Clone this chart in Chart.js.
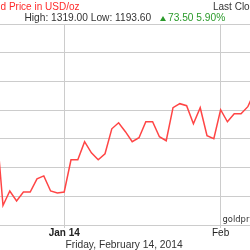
<!DOCTYPE html>
<html lang="en">
<head>
    <meta charset="UTF-8">
    <title>Gold Price in USD/oz</title>
    <style>
        html, body {
            margin: 0;
            padding: 0;
            background: #fff;
        }
        body {
            width: 250px;
            height: 250px;
            overflow: hidden;
            position: relative;
            font-family: 'Liberation Sans', Arial, sans-serif;
            font-size: 10px;
            line-height: 10px;
            color: #333;
        }
        canvas {
            position: absolute;
            left: 0;
            top: 0;
        }
        .txt {
            position: absolute;
            white-space: nowrap;
        }
        #title { left: -15px; top: 1.5px; color: #ff2a2a; }
        #lastClose { left: 213px; top: 1.5px; }
        #hilo { left: 24.5px; top: 13px; font-size: 10.2px; }
        #arrow {
            position: absolute;
            left: 160px;
            top: 16px;
            width: 0;
            height: 0;
            border-left: 3.5px solid transparent;
            border-right: 3.5px solid transparent;
            border-bottom: 5px solid #2a9a2a;
        }
        #change { left: 168px; top: 13px; color: #2a9a2a; font-size: 10.2px; }
        #date { left: 65.5px; top: 239.5px; font-size: 10.25px; }
        #mark {
            left: 222.5px;
            top: 215px;
            font-family: 'DejaVu Sans', Verdana, sans-serif;
            font-size: 8.4px;
            line-height: 8px;
            color: #333;
        }
    </style>
    <script src="https://cdn.jsdelivr.net/npm/chart.js"></script>
</head>
<body>
    <canvas id="goldChart" width="250" height="250"></canvas>
    <div class="txt" id="title">Gold Price in USD/oz</div>
    <div class="txt" id="lastClose">Last Close</div>
    <div class="txt" id="hilo">High: 1319.00 Low: 1193.60</div>
    <div id="arrow"></div>
    <div class="txt" id="change">73.50 5.90%</div>
    <div class="txt" id="date">Friday, February 14, 2014</div>
    <div class="txt" id="mark">goldprice.org</div>
    <script>
        const prices = [
            1250.5, 1193.6, 1203.7, 1196.8, 1203.0, 1203.0, 1212.1, 1214.2, 1203.7, 1202.3,
            1203.0, 1225.4, 1225.4, 1238.0, 1230.3, 1225.4, 1229.6, 1247.0, 1251.2, 1245.0,
            1238.0, 1240.8, 1251.9, 1251.9, 1241.5, 1238.7, 1261.7, 1264.5, 1263.1, 1250.5,
            1261.7, 1242.2, 1240.1, 1260.3, 1251.9, 1257.5, 1257.5, 1262.4, 1272.9
        ];
        const firstIndex = -1;

        // date ticks on the x axis
        const tickLabels = ['Jan 14', 'Feb'];
        const tickIndex = [9, 32];

        // y grid
        const yMin = 1180;
        const yMax = 1320;
        const yStep = 20;

        Chart.defaults.font.family = "'Liberation Sans', Arial, sans-serif";

        const ctx = document.getElementById('goldChart').getContext('2d');
        new Chart(ctx, {
            type: 'line',
            data: {
                datasets: [{
                    data: prices.map((p, i) => ({ x: firstIndex + i, y: p })),
                    borderColor: '#ff4545',
                    borderWidth: 1.5,
                    pointRadius: 0,
                    tension: 0,
                    fill: false
                }]
            },
            options: {
                responsive: false,
                animation: false,
                layout: {
                    padding: { top: 24, left: 0, right: 0, bottom: 0 }
                },
                plugins: {
                    legend: { display: false },
                    tooltip: { enabled: false }
                },
                scales: {
                    x: {
                        type: 'linear',
                        min: -0.44,
                        max: 36.32,
                        afterBuildTicks: scale => {
                            scale.ticks = tickIndex.map(v => ({ value: v }));
                        },
                        afterFit: scale => {
                            scale.height = 25;
                        },
                        grid: {
                            color: '#cccccc',
                            tickLength: 3
                        },
                        border: { display: false },
                        ticks: {
                            autoSkip: false,
                            maxRotation: 0,
                            padding: -1,
                            color: '#222',
                            font: c => ({
                                size: 10,
                                weight: (c.tick && c.tick.value === tickIndex[0]) ? 'bold' : 'normal'
                            }),
                            callback: v => tickLabels[tickIndex.indexOf(v)]
                        }
                    },
                    y: {
                        min: yMin,
                        max: yMax,
                        ticks: { display: false, stepSize: yStep },
                        grid: { color: '#cccccc', drawTicks: false },
                        border: { display: false },
                        afterFit: scale => {
                            scale.width = 0;
                        }
                    }
                }
            }
        });
    </script>
</body>
</html>
